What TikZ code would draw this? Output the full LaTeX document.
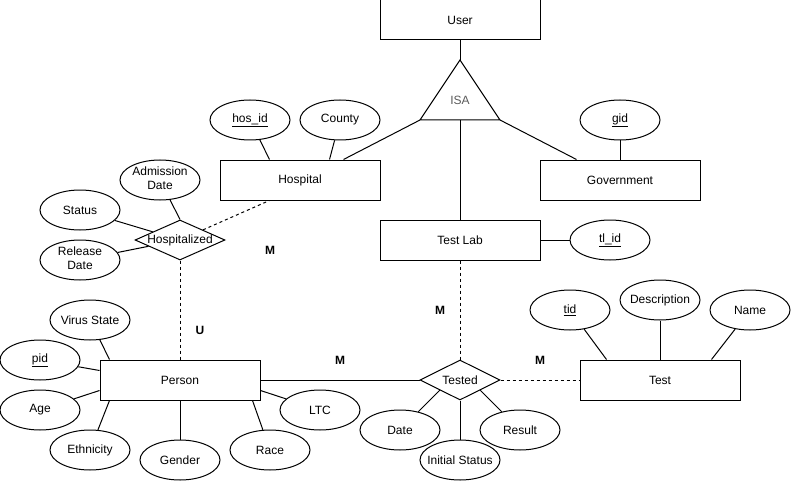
\documentclass[tikz,border=0pt]{standalone}
\usepackage{fontspec}
\setmainfont{Liberation Sans}
\usetikzlibrary{shapes.geometric,calc}
\definecolor{isagray}{RGB}{90,90,90}
\newcommand\ctext[1]{\makebox[0pt]{#1}}
\newcommand\twoline[2]{\makebox[0pt]{\begin{tabular}{@{}c@{}}#1\\#2\end{tabular}}}
\begin{document}
\begin{tikzpicture}[x=1pt,y=-1pt,line width=1pt,
  every node/.style={font=\fontsize{12}{14}\selectfont},
  entity/.style={draw,rectangle,minimum width=160pt,minimum height=40pt,inner sep=0pt},
  attr/.style={draw,ellipse,minimum width=80pt,minimum height=40pt,inner sep=0pt},
  rel/.style={draw,diamond,inner sep=0pt,aspect=1},
  card/.style={font=\fontsize{12}{14}\selectfont\bfseries},
  dashedline/.style={dash pattern=on 3pt off 3pt}]
\useasboundingbox (0,0) rectangle (791,481);

% entities
\node[entity] (user)   at (460,20)  {User};
\node[entity] (hosp)   at (300,180) {Hospital};
\node[entity] (gov)    at (620,180) {Government};
\node[entity] (lab)    at (460,240) {Test Lab};
\node[entity] (person) at (180,380) {Person};
\node[entity] (test)   at (660,380) {Test};

% ISA triangle
\coordinate (isatop)   at (460,60);
\coordinate (isaleft)  at (420,120);
\coordinate (isaright) at (500,120);
\coordinate (isabase)  at (460,120);
\draw (isatop) -- (isaright) -- (isaleft) -- cycle;
\node[text=isagray] (isa) at (460,100) {ISA};

% relationships
\node[rel,minimum width=90pt,minimum height=40pt] (hz) at (180,240) {\ctext{Hospitalized}};
\node[rel,minimum width=80pt,minimum height=40pt] (tested) at (460,380) {\ctext{Tested}};

% attributes
\node[attr] (hosid)  at (250,120) {\ctext{\underline{hos\_id}}};
\node[attr] (county) at (340,120) {\ctext{County}};
\node[attr] (gid)    at (620,120) {\ctext{\underline{gid}}};
\node[attr] (tlid)   at (610,240) {\ctext{\underline{tl\_id}}};
\node[attr] (adm)    at (160,180) {\twoline{Admission}{Date}};
\node[attr] (status) at (80,210)  {\ctext{Status}};
\node[attr] (reldate) at (80,260) {\twoline{Release}{Date}};
\node[attr] (virus)  at (90,320)  {\ctext{Virus State}};
\node[attr] (pid)    at (40,360)  {\ctext{\underline{pid}}};
\node[attr] (age)    at (40,410)  {\ctext{Age}};
\node[attr] (eth)    at (90,450)  {\ctext{Ethnicity}};
\node[attr] (gender) at (180,460) {\ctext{Gender}};
\node[attr] (race)   at (270,450) {\ctext{Race}};
\node[attr] (ltc)    at (320,410) {\ctext{LTC}};
\node[attr] (date)   at (400,430) {\ctext{Date}};
\node[attr] (init)   at (460,460) {\ctext{Initial Status}};
\node[attr] (result) at (520,430) {\ctext{Result}};
\node[attr] (tid)    at (570,310) {\ctext{\underline{tid}}};
\node[attr] (desc)   at (660,300) {\ctext{Description}};
\node[attr] (name)   at (750,310) {\ctext{Name}};

% cardinality labels
\node[card] (m1) at (270,250) {M};
\node[card] (u1) at (200,330) {U};
\node[card] (m2) at (340,360) {M};
\node[card] (m3) at (440,310) {M};
\node[card] (m4) at (540,360) {M};

% ISA connections
\draw (user.south) -- (isatop);
\draw (isaleft) -- ($(hosp.north east)+(-37,0)$);
\draw (isaright) -- ($(gov.north west)+(37,0)$);
\draw (isabase) -- (lab.north);

% attribute connections
\draw (hosid) -- ($(hosp.north west)+(50,0)$);
\draw (county) -- ($(hosp.north west)+(110,0)$);
\draw (gid) -- (gov.north);
\draw (lab.east) -- (tlid);
\draw (adm) -- (hz.north);
\draw (status) -- (hz);
\draw (reldate) -- (hz);
\draw (virus) -- ($(person.north west)+(10,0)$);
\draw (pid) -- ($(person.north west)+(0,11)$);
\draw (age) -- ($(person.south west)+(0,-10)$);
\draw (eth) -- ($(person.south west)+(10,0)$);
\draw (person.south) -- (gender);
\draw (race) -- ($(person.south east)+(-8,0)$);
\draw (ltc) -- ($(person.south east)+(0,-10)$);
\draw (date) -- ($(tested.south)!0.5!(tested.west)$);
\draw (tested.south) -- (init);
\draw (result) -- ($(tested.south)!0.5!(tested.east)$);
\draw (tid) -- ($(test.north west)+(27,0)$);
\draw (desc) -- (test.north);
\draw (name) -- ($(test.north east)+(-29,0)$);

% relationship connections
\draw[dashedline] (hz) -- ($(hosp.south west)+(50,0)$);
\draw[dashedline] (hz.south) -- (person.north);
\draw (person.east) -- (tested.west);
\draw[dashedline] (lab.south) -- (tested.north);
\draw[dashedline] (tested.east) -- (test.west);
\end{tikzpicture}
\end{document}
